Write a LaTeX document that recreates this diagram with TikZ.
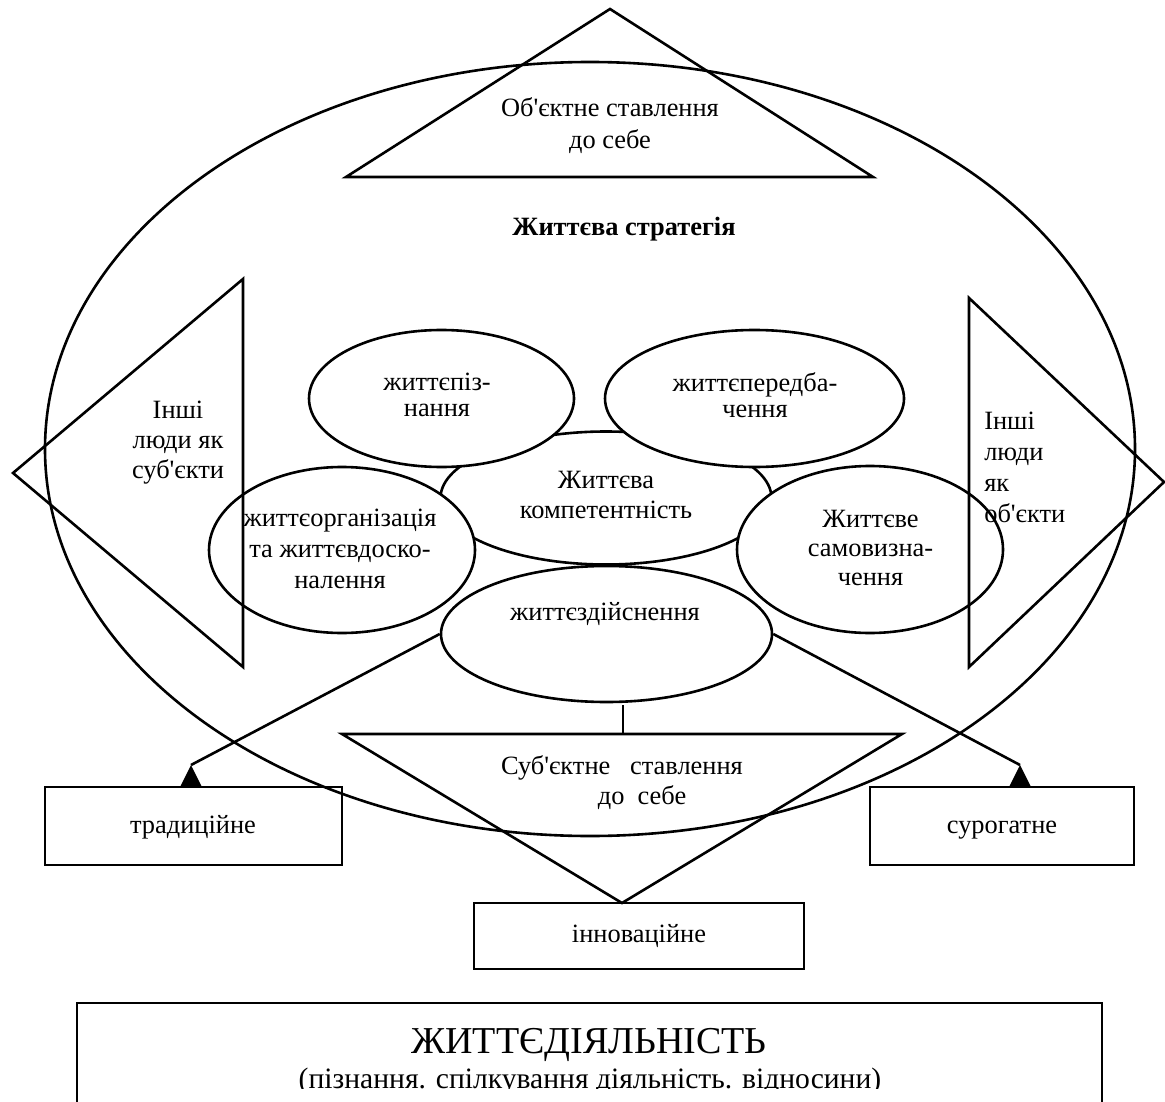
\documentclass[tikz,border=0pt]{standalone}
\usepackage{fontspec}
\setmainfont{Liberation Serif}
\newfontfamily\tnr{Liberation Serif}
\usetikzlibrary{shapes.geometric}
\begin{document}
\begin{tikzpicture}[x=0.5pt,y=-0.5pt,line width=1.3pt,line join=miter,
  ell/.style={draw, ellipse, fill=white, inner sep=0pt},
  box/.style={draw, rectangle, inner sep=0pt},
  txt/.style={inner sep=0pt, align=center, font=\tnr\fontsize{13.2}{15}\selectfont},
  tip/.style={fill=black, draw=none}]
\useasboundingbox (0,0) rectangle (1165,1101);
\clip (0,0) rectangle (1165,1101);

% big ellipse: life strategy
\node[draw, ellipse, inner sep=0pt, minimum width=545pt, minimum height=387pt] (strat) at (590,449) {};

% inner ellipses
\node[ell, minimum width=165.5pt, minimum height=66.5pt] (comp) at (606,498) {};
\node[ell, minimum width=132.5pt, minimum height=68.5pt] (cog) at (441.5,398.5) {};
\node[ell, minimum width=149.5pt, minimum height=68.5pt] (pred) at (754.5,398.5) {};
\node[ell, minimum width=133pt, minimum height=83pt] (org) at (342,550) {};
\node[ell, minimum width=133pt, minimum height=83.5pt] (self) at (870,549.5) {};
\node[ell, minimum width=165.5pt, minimum height=68pt] (doing) at (606.5,634) {};

% triangles
\coordinate (tA) at (610,9);   \coordinate (tB) at (346,177); \coordinate (tC) at (873,177);
\coordinate (lA) at (13,473);  \coordinate (lB) at (243,279); \coordinate (lC) at (243,667);
\coordinate (rA) at (1164,482);\coordinate (rB) at (969,298); \coordinate (rC) at (969,667);
\coordinate (bA) at (342,734); \coordinate (bB) at (902,734); \coordinate (bC) at (622,903);
\draw (tA) -- (tB) -- (tC) -- cycle;
\draw (lA) -- (lB) -- (lC) -- cycle;
\draw (rA) -- (rB) -- (rC) -- cycle;
\draw (bA) -- (bB) -- (bC) -- cycle;

% boxes
\node[box, minimum width=148.5pt, minimum height=39pt] (trad) at (193.5,826) {};
\node[box, minimum width=132pt, minimum height=39pt] (surr) at (1002,826) {};
\node[box, minimum width=165pt, minimum height=33pt] (innov) at (639,936) {};
\node[box, minimum width=512.5pt, minimum height=100pt] (life) at (589.5,1103) {};

% connectors
\coordinate (tipL) at (191,765);
\coordinate (tipR) at (1020,765);
\draw (doing.west) -- (tipL);
\draw (doing.east) -- (tipR);
\fill[tip] (tipL) -- ++(-11,22) -- ++(22,0) -- cycle;
\fill[tip] (tipR) -- ++(-11,22) -- ++(22,0) -- cycle;
\coordinate (vtop) at (623,705);
\coordinate (vbot) at (623,734);
\draw (vtop) -- (vbot);

% texts
\node[txt, font=\tnr\fontsize{13.2}{16}\selectfont] (tObj) at (610,126) {Об'єктне ставлення\\до себе};
\node[txt, font=\tnr\bfseries\fontsize{13.2}{15}\selectfont, anchor=base] (tStrat) at (624,236) {Життєва стратегія};
\node[txt, font=\tnr\fontsize{13.2}{15}\selectfont] (tLeft) at (178,443) {Інші\\люди як\\суб'єкти};
\node[txt, font=\tnr\fontsize{13.2}{15.5}\selectfont, align=left, anchor=west] (tRight) at (983,467) {Інші\\люди\\як\\об'єкти};
\node[txt, font=\tnr\fontsize{13.2}{13}\selectfont] (tCog) at (437,395) {життєпіз-\\нання};
\node[txt, font=\tnr\fontsize{13.2}{13}\selectfont] (tPred) at (755,395) {життєпередба-\\чення};
\node[txt, font=\tnr\fontsize{13.2}{15}\selectfont] (tComp) at (606,495) {Життєва\\компетентність};
\node[txt, font=\tnr\fontsize{13.2}{15.5}\selectfont] (tOrg) at (340,549) {життєорганізація\\та життєвдоско-\\налення};
\node[txt, font=\tnr\fontsize{13.2}{14.5}\selectfont] (tSelf) at (870.5,548) {Життєве\\самовизна-\\чення};
\node[txt, anchor=base] (tDoing) at (605,620) {життєздійснення};
\node[txt, anchor=base] (tSubj1) at (622,774) {Суб'єктне\ \ \ ставлення};
\node[txt, anchor=base] (tSubj2) at (642,804) {до\ \ себе};
\node[txt, anchor=base] (tTrad) at (193,833) {традиційне};
\node[txt, anchor=base] (tSurr) at (1002,833) {сурогатне};
\node[txt, anchor=base] (tInnov) at (639,942) {інноваційне};
\node[txt, font=\tnr\fontsize{19}{21}\selectfont, anchor=base] (tLife) at (589,1053) {ЖИТТЄДІЯЛЬНІСТЬ};
\begin{scope}
\clip (0,0) rectangle (1165,1088);
\node[txt, font=\tnr\fontsize{14.8}{16}\selectfont, anchor=base] (tLifeSub) at (590,1088) {(пізнання. спілкування діяльність. відносини)};
\end{scope}
\end{tikzpicture}
\end{document}
